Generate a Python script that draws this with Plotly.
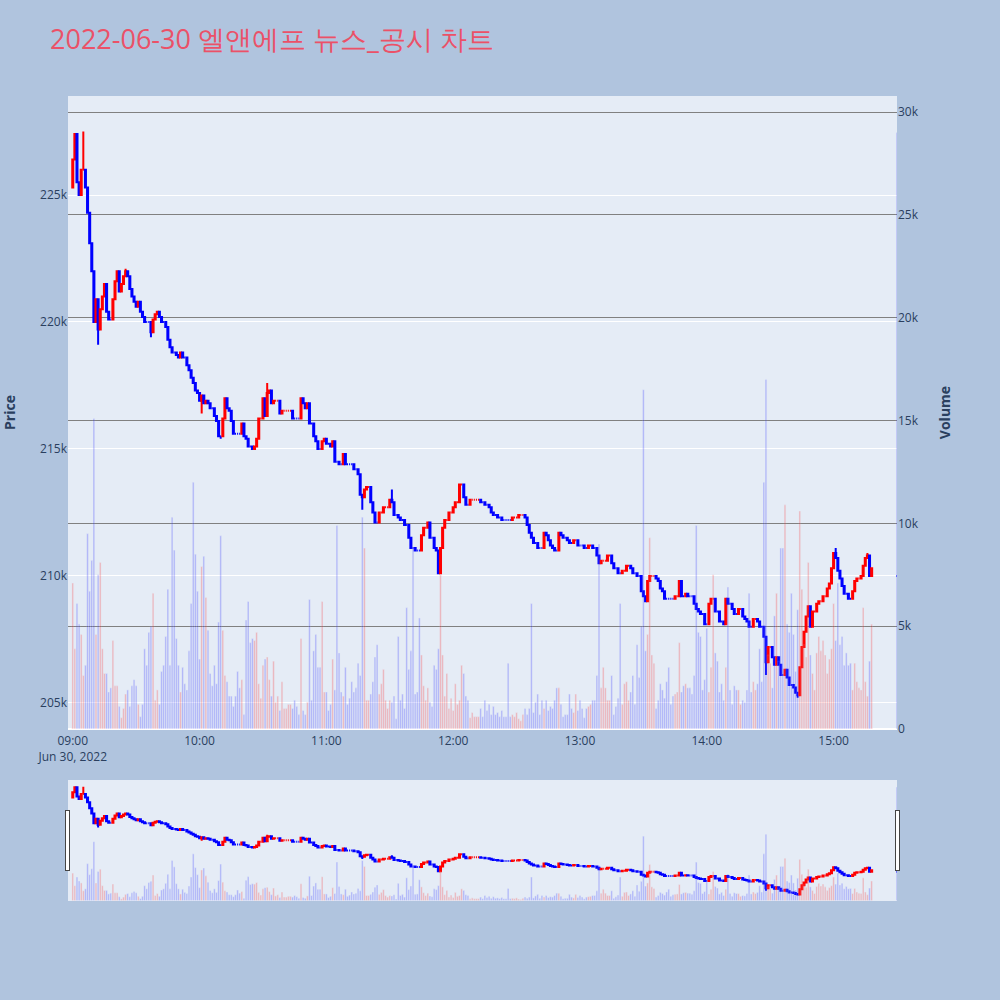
import pandas as pd
import plotly.graph_objects as go
from plotly.subplots import make_subplots

TITLE = "2022-06-30 엘앤에프 뉴스_공시 차트"
SESSION_START = "2022-06-30 09:00"
AUCTION_TIME = "2022-06-30 15:30"
X_RANGE = ["2022-06-30 08:57:45", "2022-06-30 15:30:00"]

# price of the first minute's open (thousand KRW)
first_open_k = 225.3

# 1-minute closes from 09:00 to 15:18 (thousand KRW)
close_k = [
    226.4, 227.4, 225.5, 225.0, 226.0, 226.0, 225.3, 224.3, 223.1, 222.0,
    220.0, 220.9, 219.7, 220.5, 221.0, 221.5, 220.4, 220.1, 220.1, 220.9,
    221.6, 222.0, 221.2, 221.5, 221.8, 222.0, 221.8, 221.3, 221.0, 220.8,
    220.6, 220.8, 220.4, 220.2, 220.0, 220.0, 220.0, 219.6, 220.1, 220.3,
    220.4, 220.2, 220.0, 220.0, 219.8, 219.3, 219.0, 218.8, 218.8, 218.7,
    218.6, 218.8, 218.6, 218.6, 218.3, 218.1, 217.8, 217.6, 217.3, 217.2,
    216.9, 217.1, 216.8, 216.9, 216.8, 216.6, 216.6, 216.3, 216.1, 215.5,
    215.5, 216.2, 217.0, 216.6, 216.5, 216.1, 215.6, 215.6, 215.6, 215.6,
    216.0, 215.5, 215.4, 215.1, 215.1, 215.0, 215.1, 215.4, 216.2, 216.2,
    217.0, 216.3, 217.2, 217.3, 216.8, 216.9, 216.9, 216.9, 216.4, 216.5,
    216.5, 216.5, 216.5, 216.5, 216.2, 216.2, 216.2, 216.2, 217.0, 216.8,
    216.6, 216.8, 216.0, 216.0, 215.5, 215.3, 215.0, 215.0, 215.3, 215.4,
    215.2, 215.2, 215.1, 215.3, 214.5, 214.5, 214.4, 214.4, 214.8, 214.4,
    214.4, 214.4, 214.4, 214.2, 214.2, 214.0, 213.2, 213.1, 213.4, 213.5,
    213.5, 212.9, 212.5, 212.1, 212.1, 212.5, 212.5, 212.7, 212.7, 212.7,
    213.0, 212.9, 212.4, 212.4, 212.3, 212.2, 212.2, 212.0, 212.0, 211.5,
    211.1, 211.1, 211.0, 211.0, 211.0, 211.6, 211.9, 211.9, 212.1, 211.5,
    211.5, 211.1, 211.0, 210.1, 211.1, 211.9, 212.2, 212.2, 212.5, 212.5,
    212.7, 212.9, 212.9, 213.6, 213.6, 213.1, 212.8, 212.8, 213.0, 213.0,
    213.0, 213.0, 213.0, 212.9, 212.9, 212.8, 212.8, 212.7, 212.5, 212.4,
    212.4, 212.3, 212.3, 212.2, 212.2, 212.2, 212.2, 212.2, 212.3, 212.3,
    212.3, 212.4, 212.4, 212.4, 212.3, 212.0, 211.7, 211.5, 211.3, 211.3,
    211.1, 211.1, 211.1, 211.7, 211.6, 211.4, 211.2, 211.1, 211.0, 211.0,
    211.7, 211.6, 211.5, 211.5, 211.4, 211.3, 211.3, 211.4, 211.4, 211.2,
    211.2, 211.2, 211.1, 211.1, 211.2, 211.2, 211.1, 211.1, 210.8, 210.5,
    210.6, 210.6, 210.6, 210.8, 210.8, 210.5, 210.3, 210.3, 210.1, 210.1,
    210.2, 210.2, 210.4, 210.4, 210.3, 210.1, 210.1, 210.0, 210.0, 209.4,
    209.2, 209.0, 209.8, 210.0, 210.0, 210.0, 209.9, 209.8, 209.5, 209.4,
    209.1, 209.1, 209.1, 209.1, 209.1, 209.2, 209.2, 209.8, 209.2, 209.2,
    209.3, 209.2, 209.2, 209.2, 208.9, 208.7, 208.6, 208.5, 208.5, 208.1,
    208.1, 208.9, 209.1, 209.1, 208.6, 208.6, 208.2, 208.2, 208.1, 209.1,
    208.9, 208.9, 208.7, 208.5, 208.5, 208.7, 208.7, 208.4, 208.3, 208.2,
    208.0, 208.0, 208.3, 208.3, 208.2, 208.0, 208.0, 207.6, 206.6, 207.2,
    207.2, 206.8, 206.5, 206.8, 206.5, 206.1, 206.1, 206.3, 206.0, 205.7,
    205.7, 205.6, 205.4, 205.3, 206.4, 207.2, 207.8, 208.4, 208.8, 208.0,
    208.6, 208.6, 208.9, 209.0, 209.0, 209.2, 209.2, 209.5, 209.7, 210.3,
    210.9, 210.7, 210.2, 209.9, 209.6, 209.3, 209.3, 209.1, 209.1, 209.4,
    209.8, 209.9, 209.9, 210.0, 210.4, 210.7, 210.8, 210.0, 210.3,
]

# closing-auction print at 15:30 (thousand KRW)
auction_close_k = 210.0

# extra wick extremes (minute index -> price, thousand KRW)
high_wick_minutes = [5, 25, 92, 151, 361, 376]
high_wick_k = [227.5, 222.1, 217.6, 213.4, 211.1, 210.9]
low_wick_minutes = [12, 37, 61, 70, 137, 328, 343]
low_wick_k = [219.1, 219.4, 216.4, 215.4, 212.6, 206.1, 205.2]

# 1-minute volume (thousand shares)
volume_k = [
    7.1, 3.9, 6.1, 5.1, 4.6, 2.6, 3.1, 9.5, 6.7, 8.2,
    15.1, 4.6, 7.5, 8.1, 3.9, 2.7, 2.7, 1.8, 2.0, 4.3,
    2.1, 2.1, 1.1, 0.55, 1.0, 1.7, 1.9, 1.1, 2.1, 2.4,
    2.1, 1.2, 0.6, 1.2, 3.9, 3.1, 4.7, 5.0, 6.6, 1.4,
    1.9, 1.2, 2.8, 3.1, 4.5, 6.8, 3.1, 10.3, 8.7, 4.4,
    3.1, 1.8, 3.0, 2.2, 1.9, 3.8, 6.1, 12.0, 8.5, 6.7,
    3.4, 7.9, 8.4, 6.4, 4.8, 2.7, 2.1, 3.1, 2.2, 5.2,
    9.4, 4.8, 2.6, 2.3, 1.6, 1.6, 1.1, 1.6, 2.8, 2.0,
    2.4, 0.7, 5.3, 6.2, 4.2, 4.4, 4.3, 4.7, 2.2, 1.5,
    3.1, 3.4, 3.5, 2.4, 1.6, 3.3, 1.3, 1.6, 0.9, 2.3,
    1.0, 1.0, 1.2, 1.2, 1.0, 1.4, 1.1, 0.7, 4.4, 0.9,
    0.7, 1.3, 6.3, 1.4, 3.8, 4.6, 3.0, 3.0, 6.2, 1.8,
    1.8, 0.9, 1.2, 3.4, 1.9, 9.9, 3.7, 1.8, 1.6, 3.0,
    1.2, 1.5, 2.3, 1.8, 2.0, 3.2, 2.6, 10.3, 8.8, 1.4,
    1.4, 1.7, 2.3, 3.5, 4.1, 1.7, 2.2, 2.9, 1.4, 1.0,
    1.4, 1.3, 1.6, 0.5, 4.5, 1.4, 1.7, 1.0, 5.9, 2.9,
    3.8, 8.8, 1.7, 1.8, 5.4, 3.6, 2.1, 1.4, 2.0, 1.3,
    1.1, 3.1, 2.9, 3.9, 7.5, 3.6, 1.6, 2.7, 1.0, 1.5,
    0.9, 2.2, 1.2, 1.4, 3.1, 2.7, 1.6, 1.4, 0.55, 0.8,
    0.6, 0.6, 0.6, 1.0, 0.6, 1.4, 0.9, 1.2, 0.7, 1.1,
    0.7, 0.8, 0.6, 0.9, 0.6, 0.6, 3.2, 0.6, 0.7, 0.6,
    0.8, 0.5, 0.4, 0.7, 1.0, 0.7, 1.0, 6.1, 0.8, 1.3,
    1.7, 0.7, 1.4, 1.0, 1.4, 0.9, 1.1, 1.0, 1.4, 2.0,
    2.0, 1.2, 0.6, 0.7, 0.7, 1.7, 1.0, 0.8, 1.7, 0.9,
    1.4, 1.0, 0.55, 1.0, 1.1, 1.2, 1.4, 1.4, 2.6, 9.0,
    2.0, 3.0, 2.0, 1.4, 1.4, 2.6, 0.7, 1.1, 1.5, 6.1,
    1.2, 2.2, 2.3, 1.4, 1.8, 2.6, 1.2, 4.1, 2.5, 5.0,
    16.5, 3.8, 4.6, 9.3, 3.6, 3.2, 1.0, 1.4, 2.2, 1.9,
    1.5, 2.3, 3.0, 1.2, 1.6, 1.7, 1.8, 4.2, 1.8, 2.1,
    2.2, 2.0, 2.0, 1.7, 2.6, 9.9, 4.7, 4.5, 1.9, 2.4,
    4.9, 1.8, 3.0, 7.5, 3.7, 3.3, 1.8, 2.2, 1.4, 3.0,
    6.9, 1.9, 1.2, 2.1, 1.9, 1.9, 1.2, 1.4, 1.3, 1.9,
    6.6, 1.8, 2.3, 1.9, 2.2, 3.9, 2.3, 12.0, 17.0, 3.6,
    3.2, 2.0, 5.5, 6.6, 3.3, 8.8, 8.8, 10.9, 5.1, 4.7,
    6.6, 4.6, 2.8, 5.8, 10.6, 6.8, 4.1, 3.5, 8.1, 3.6,
    2.7, 1.9, 3.7, 4.5, 3.8, 4.3, 3.6, 2.7, 3.4, 3.9,
    6.1, 4.3, 7.1, 4.1, 4.5, 3.1, 3.7, 3.1, 3.2, 1.9,
    3.2, 2.3, 2.0, 1.9, 5.9, 2.3, 1.6, 3.3, 5.1,
]
auction_volume_k = 29.0

# ---- assemble OHLC ----
n = len(close_k)
times = list(pd.date_range(SESSION_START, periods=n, freq="min")) + [pd.Timestamp(AUCTION_TIME)]
closes = [round(c * 1000) for c in close_k] + [round(auction_close_k * 1000)]
opens = [round(first_open_k * 1000)] + closes[:n - 1] + [round(auction_close_k * 1000)]
highs = [max(o, c) for o, c in zip(opens, closes)]
lows = [min(o, c) for o, c in zip(opens, closes)]
for m, v in zip(high_wick_minutes, high_wick_k):
    highs[m] = max(highs[m], round(v * 1000))
for m, v in zip(low_wick_minutes, low_wick_k):
    lows[m] = min(lows[m], round(v * 1000))
volumes = [round(v * 1000) for v in volume_k] + [round(auction_volume_k * 1000)]

# direction (same rule plotly uses for candles)
dirs = []
prev_c = None
prev_inc = True
for o, c in zip(opens, closes):
    if c > o:
        inc = True
    elif c < o:
        inc = False
    elif prev_c is not None and c > prev_c:
        inc = True
    elif prev_c is not None and c < prev_c:
        inc = False
    else:
        inc = prev_inc
    dirs.append(inc)
    prev_c = c
    prev_inc = inc
vol_colors = ["red" if d else "blue" for d in dirs]

fig = make_subplots(specs=[[{"secondary_y": True}]])
fig.add_trace(
    go.Candlestick(
        x=times, open=opens, high=highs, low=lows, close=closes,
        increasing=dict(line=dict(color="red")),
        decreasing=dict(line=dict(color="blue")),
        name="Price",
    ),
    secondary_y=False,
)
fig.add_trace(
    go.Bar(x=times, y=volumes, marker=dict(color=vol_colors, opacity=0.25), name="Volume"),
    secondary_y=True,
)

fig.update_layout(
    width=1000,
    height=1000,
    title=dict(text=TITLE, x=0.05, xanchor="left", y=0.96, yanchor="middle",
               font=dict(size=27, color="#EB5168")),
    paper_bgcolor="lightsteelblue",
    plot_bgcolor="#E5ECF6",
    showlegend=False,
    margin=dict(l=68, r=103, t=96, b=100),
)
fig.update_xaxes(
    domain=[0, 1],
    range=X_RANGE,
    ticklabelstandoff=3,
    rangeslider=dict(visible=True, thickness=0.15, bgcolor="#E5ECF6", range=X_RANGE),
)
fig.update_yaxes(title=dict(text="<b>Price</b>", standoff=22), range=[203970, 228900],
                 automargin=False, secondary_y=False)
fig.update_yaxes(title=dict(text="<b>Volume</b>", standoff=22), range=[0, 30780],
                 gridcolor="gray", secondary_y=True)

fig.write_html("out.html", config={"displayModeBar": False},
               post_script="document.body.style.margin='0';")
